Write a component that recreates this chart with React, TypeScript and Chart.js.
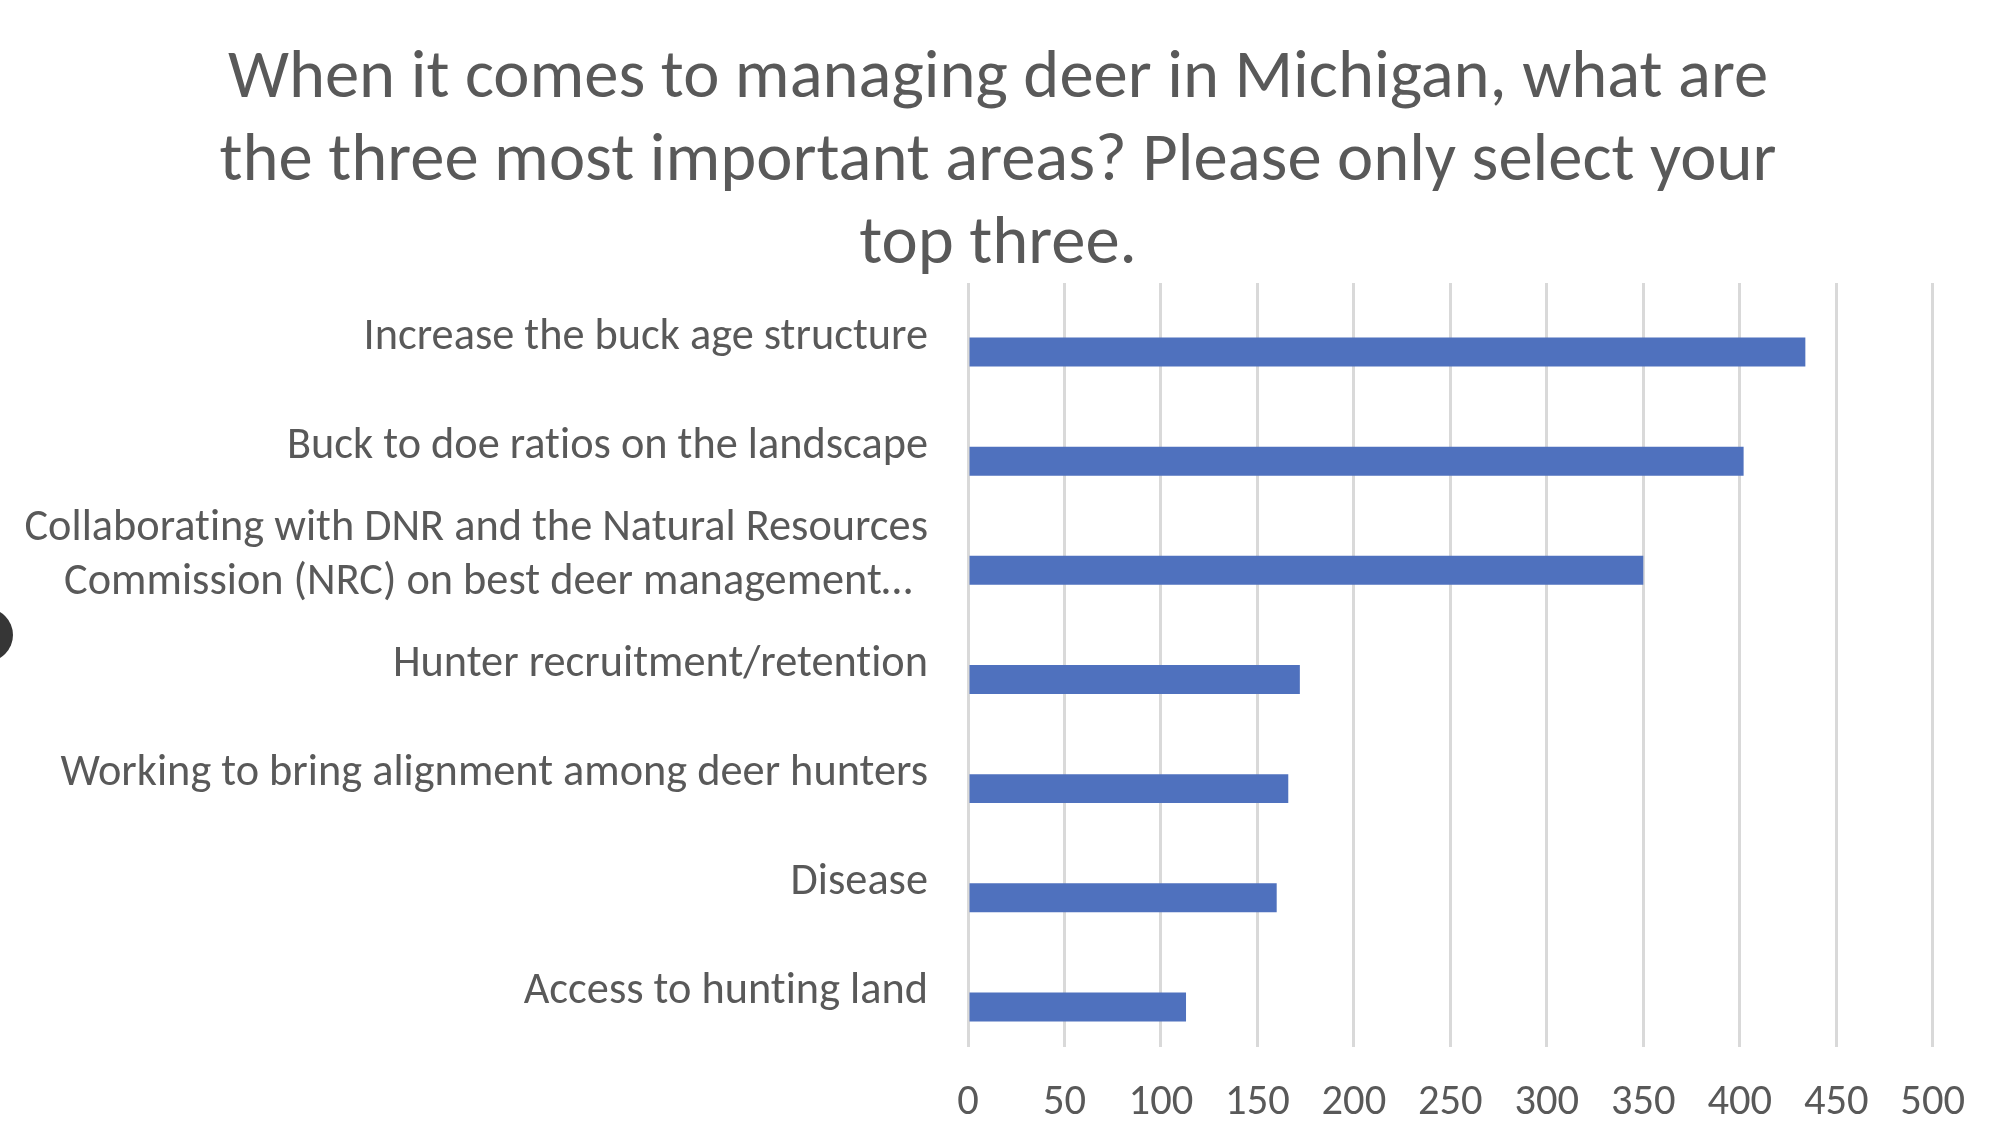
import React, { useEffect, useRef } from 'react';
import { Chart, registerables } from 'chart.js';

Chart.register(...registerables);

const titleLines: string[] = [
  'When it comes to managing deer in Michigan, what are',
  'the three most important areas? Please only select your',
  'top three.',
];

const categories: (string | string[])[] = [
  'Increase the buck age structure',
  'Buck to doe ratios on the landscape',
  ['Collaborating with DNR and the Natural Resources', 'Commission (NRC) on best deer management\u2026 \u200A'],
  'Hunter recruitment/retention',
  'Working to bring alignment among deer hunters',
  'Disease',
  'Access to hunting land',
];

const responses: number[] = [434, 402, 350, 172, 166, 160, 113];

const axisMin = 0;
const axisMax = 500;
const axisStep = 50;

const FONT = 'Carlito, Calibri, Lato, sans-serif';
const TEXT = '#595959';

const noLigatures = {
  id: 'noLigatures',
  beforeInit(chart: any) {
    try {
      chart.ctx.letterSpacing = '0.01px';
    } catch (e) {
      /* ignore */
    }
  },
  beforeDraw(chart: any) {
    try {
      chart.ctx.letterSpacing = '0.01px';
    } catch (e) {
      /* ignore */
    }
  },
};

export default function App() {
  const canvasRef = useRef<HTMLCanvasElement | null>(null);

  useEffect(() => {
    document.body.style.margin = '0';
    const canvas = canvasRef.current;
    if (!canvas) return;
    const chart = new Chart(canvas, {
      type: 'bar',
      data: {
        labels: categories,
        datasets: [
          {
            label: 'spacer',
            data: categories.map(() => null),
            backgroundColor: 'rgba(0,0,0,0)',
          },
          {
            label: 'Responses',
            data: responses,
            backgroundColor: '#4F71BE',
            borderWidth: 0,
          },
        ],
      },
      plugins: [noLigatures],
      options: {
        indexAxis: 'y',
        responsive: true,
        maintainAspectRatio: false,
        animation: false,
        layout: { padding: { left: 0, right: 0, top: 0, bottom: 0 } },
        datasets: { bar: { categoryPercentage: 0.531, barPercentage: 1 } },
        plugins: {
          legend: { display: false },
          tooltip: { enabled: false },
          title: {
            display: true,
            text: titleLines,
            color: TEXT,
            font: { family: FONT, size: 68.6, weight: 'normal', lineHeight: '83px' },
            padding: { top: 38.5, bottom: -4.5 },
          },
        },
        scales: {
          y: {
            position: 'left',
            ticks: {
              color: TEXT,
              font: { family: FONT, size: 44.3, lineHeight: '54px' },
              padding: 40,
              autoSkip: false,
            },
            grid: { display: false, drawTicks: false },
            border: { display: false },
            afterFit: (s: any) => {
              s.width = 968;
            },
          },
          rightMargin: {
            axis: 'y',
            type: 'category',
            position: 'right',
            ticks: { display: false },
            grid: { display: false, drawTicks: false },
            border: { display: false },
            afterFit: (s: any) => {
              s.width = 58;
            },
          },
          x: {
            type: 'linear',
            min: axisMin,
            max: axisMax,
            ticks: {
              stepSize: axisStep,
              color: TEXT,
              font: { family: FONT, size: 42.5 },
              padding: 31,
            },
            grid: { color: '#D9D9D9', lineWidth: 3, drawTicks: false },
            border: { display: false },
            afterFit: (s: any) => {
              s.height = 87;
            },
          },
        },
      },
    } as any);
    return () => chart.destroy();
  }, []);

  return (
    <div style={{ position: 'relative', width: '1996px', height: '1134px', overflow: 'hidden', background: '#fff' }}>
      <canvas ref={canvasRef} />
      <div
        style={{
          position: 'absolute',
          left: '-41px',
          top: '608px',
          width: '54px',
          height: '54px',
          borderRadius: '50%',
          background: '#363636',
        }}
      />
    </div>
  );
}
